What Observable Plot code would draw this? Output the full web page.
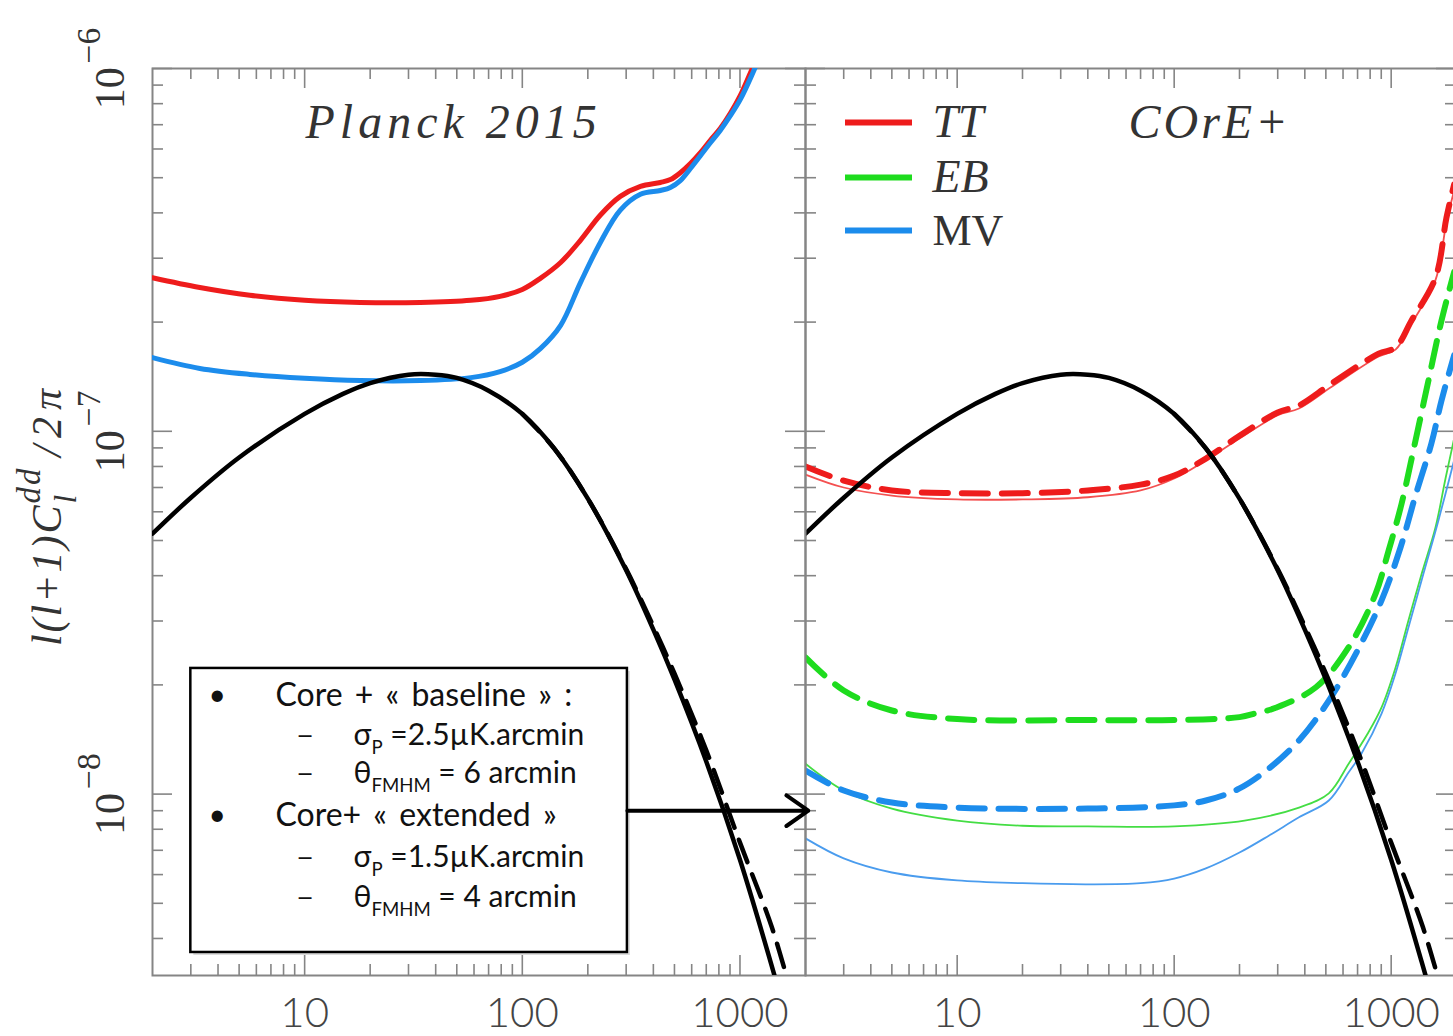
<!DOCTYPE html>
<html><head><meta charset="utf-8">
<script src="https://cdn.jsdelivr.net/npm/d3@7"></script>
<script src="https://cdn.jsdelivr.net/npm/@observablehq/plot@0.6"></script>
<style>
html,body{margin:0;padding:0;background:#fff;overflow:hidden;}
#wrap{position:relative;width:1453px;height:1036px;overflow:hidden;background:#fff;}
#wrap svg{position:absolute;top:0;overflow:visible;}
</style></head><body><div id="wrap"></div>
<script>
// ---------- data (values in units of 1e-8) ----------
const ellBlack = [2,3,5,10,15,20,30,40,50,70,100,140,200,300,400,500,700,1000,1380,1500];
const cBlack   = [5.22,6.56,8.47,11.17,12.68,13.58,14.32,14.32,14.03,12.94,11.17,8.97,6.52,4.14,2.84,2.07,1.23,0.659,0.346,0.290];
const ellBlackB = [100,140,200,300,400,500,700,1000,1400,1700];
const cBlackB   = [11.17,8.97,6.52,4.17,2.90,2.15,1.32,0.735,0.43,0.29];

const ellPlanck = [2,3.3,5.6,10,18,34,58,79,100,121,150,185,228,282,349,431,479,532,592,658,731,813,903,1004,1140,1250];
const cPlanckTT = [26.5,24.9,23.7,22.96,22.65,22.65,22.96,23.55,24.6,26.4,29.2,33.6,39.4,44.4,47.3,48.5,49.4,51.6,54.7,58.6,63.4,68.4,75.2,84.3,100,112];
const cPlanckMV = [15.96,14.9,14.35,14.0,13.8,13.8,14.06,14.6,15.5,16.9,19.6,25.7,33.1,40.7,45.0,46.1,47.0,49.1,53.0,57.5,62.4,67.6,74.1,82.2,96.6,110];

const ellTT = [2,3,5,10,20,40,70,100,140,200,300,376,532,875,1047,1241,1600,1798,1950];
const cTTbase = [8.00,7.31,6.87,6.75,6.75,6.87,7.13,7.55,8.41,9.72,11.27,11.78,13.55,16.37,17.02,20.2,26.5,38.8,47.9];
const cTText  = [7.60,7.00,6.65,6.49,6.49,6.58,6.87,7.41,8.32,9.55,11.07,11.56,13.27,16.07,16.79,19.8,26.1,37.7,46.1];

const ellEBbase = [2,3,5,10,40,100,200,238,294,450,637,848,973,1117,1295,1485,1706,1950];
const cEBbase   = [2.38,1.93,1.70,1.61,1.60,1.60,1.63,1.67,1.73,1.97,2.54,3.57,4.69,6.32,9.44,13.8,20.2,27.5];
const ellMVbase = [2,3,5,10,40,100,140,199,274,376,516,708,903,1105,1294,1532,1706,1950];
const cMVbase   = [1.161,1.023,0.948,0.918,0.912,0.931,0.960,1.035,1.178,1.406,1.81,2.52,3.42,4.79,6.65,9.25,12.16,16.2];

const ellEBext = [2,3,5,10,20,40,100,211,376,516,637,780,903,1047,1201,1384,1600,1780,1950];
const cEBext   = [1.213,1.023,0.912,0.845,0.818,0.815,0.815,0.845,0.918,1.005,1.213,1.469,1.734,2.23,3.01,4.06,5.43,7.41,9.55];
const ellMVext = [2,3,5,10,20,40,70,100,140,200,274,376,516,637,730,903,1047,1201,1410,1651,1950];
const cMVext   = [0.755,0.665,0.608,0.578,0.568,0.564,0.568,0.585,0.624,0.690,0.769,0.863,0.960,1.148,1.294,1.667,2.15,2.88,4.06,5.68,8.32];

const xMajor = [10, 100, 1000];
const xMinor = [3,4,5,6,7,8,9,20,30,40,50,60,70,80,90,200,300,400,500,600,700,800,900];
const yMajor = [1e-8, 1e-7, 1e-6];
const yMinor = [4e-9,5e-9,6e-9,7e-9,8e-9,9e-9,2e-8,3e-8,4e-8,5e-8,6e-8,7e-8,8e-8,9e-8,2e-7,3e-7,4e-7,5e-7,6e-7,7e-7,8e-7,9e-7];

const panelTitles = ["Planck 2015", "COrE+"];
const legendLabels = ["TT", "EB", "MV"];
const yLabel = "l(l+1)C_{l}^{dd}/2π";
const boxHeaders = ["Core + « baseline » :", "Core+ « extended »"];
const boxParams = ["σ_{P} =2.5µK.arcmin", "θ_{FMHM} = 6 arcmin", "σ_{P} =1.5µK.arcmin", "θ_{FMHM} = 4 arcmin"];
// annotation box (ell, value) and arrow
const boxEll = [3, 304];
const boxVal = [3.66e-9, 2.22e-8];
const arrowEll = [304, 2060];
const arrowVal = 9.0e-9;

// ---------- layout ----------
const H = 1036, MT = 68, MB = 61;
const PH = H - MT - MB;
const serif = "'Liberation Serif','DejaVu Serif',serif";
const sans = "Lato,'Open Sans','Noto Sans',sans-serif";
const RED = "#ee1c1c", GREEN = "#1edc1e", BLUE = "#1c8cec";
const yDomain = [Math.pow(10, -8.5), 1e-6];
const xDomain = [2, 2000];

const rows = (ell, vals) => ell.map((l, i) => ({l, v: vals[i] * 1e-8}));
const line = (ell, vals, o) => Plot.line(rows(ell, vals), {x: "l", y: "v", curve: "catmull-rom", clip: true, strokeLinejoin: "round", ...o});

function axes(pw) {
  const tk = {stroke: "#858585", strokeWidth: 1.6};
  return [
    Plot.tickX(xMajor, {x: d => d, insetTop: PH - 20, ...tk}),
    Plot.tickX(xMinor, {x: d => d, insetTop: PH - 11, ...tk}),
    Plot.tickX(xMajor, {x: d => d, insetBottom: PH - 20, ...tk}),
    Plot.tickX(xMinor, {x: d => d, insetBottom: PH - 11, ...tk}),
    Plot.tickY(yMajor, {y: d => d, insetRight: pw - 20, ...tk}),
    Plot.tickY(yMinor, {y: d => d, insetRight: pw - 11, ...tk}),
    Plot.tickY(yMajor, {y: d => d, insetLeft: pw - 20, ...tk}),
    Plot.tickY(yMinor, {y: d => d, insetLeft: pw - 11, ...tk}),
    Plot.frame({stroke: "#858585", strokeWidth: 2}),
    Plot.text(xMajor, {x: d => d, frameAnchor: "bottom", lineAnchor: "bottom", dy: 51, text: d => String(d), fontSize: 42, fontFamily: sans, fontWeight: 300, fill: "#444"})
  ];
}

const boxText = (s, dx, dy, size = 30, weight = "normal") => Plot.text([s], {frameAnchor: "bottom-left", lineAnchor: "middle", dx, dy, text: d => d, textAnchor: "start", fontSize: size, fontWeight: weight, fontFamily: sans, fill: "#111"});

const WL = 805, WR = 651;
const left = Plot.plot({
  width: WL, height: H, marginLeft: 152, marginRight: 0, marginTop: MT, marginBottom: MB,
  x: {type: "log", domain: xDomain, axis: null},
  y: {type: "log", domain: yDomain, axis: null},
  style: {overflow: "visible", background: "transparent"},
  marks: [
    ...axes(WL - 152),
    line(ellPlanck, cPlanckTT, {stroke: RED, strokeWidth: 5}),
    line(ellPlanck, cPlanckMV, {stroke: BLUE, strokeWidth: 5}),
    line(ellBlackB, cBlackB, {stroke: "#000", strokeWidth: 4.5, strokeDasharray: "24,13"}),
    line(ellBlack, cBlack, {stroke: "#000", strokeWidth: 4.5}),
    Plot.rect([0], {x1: boxEll[0], x2: boxEll[1], y1: boxVal[0], y2: boxVal[1], dx: 3, dy: 3, fill: "#999", fillOpacity: 0.35}),
    Plot.rect([0], {x1: boxEll[0], x2: boxEll[1], y1: boxVal[0], y2: boxVal[1], fill: "#fff", stroke: "#000", strokeWidth: 2.5}),
    boxText("•", 56, -280), boxText(boxHeaders[0], 123, -280, 32),
    boxText("—", 145, -240, 19, "bold"), boxText(boxParams[0], 201, -240),
    boxText("—", 145, -202, 19, "bold"), boxText(boxParams[1], 201, -202),
    boxText("•", 56, -160), boxText(boxHeaders[1], 123, -160, 32),
    boxText("—", 145, -118, 19, "bold"), boxText(boxParams[2], 201, -118),
    boxText("—", 145, -78, 19, "bold"), boxText(boxParams[3], 201, -78),
    Plot.arrow([0], {x1: arrowEll[0], x2: arrowEll[1], y1: arrowVal, y2: arrowVal, stroke: "#000", strokeWidth: 4, headLength: 10, headAngle: 70}),
    Plot.text(yMajor, {y: d => d, frameAnchor: "left", dx: -29, rotate: -90, textAnchor: "middle", lineAnchor: "bottom",
      text: d => "10^{−" + Math.round(-Math.log10(d)) + "}", fontSize: 42, fontFamily: serif, fill: "#333"}),
    Plot.text([yLabel], {frameAnchor: "left", dx: -92, dy: -8, rotate: -90, textAnchor: "middle", lineAnchor: "bottom",
      text: d => d, fontSize: 42, fontStyle: "italic", fontFamily: serif, fill: "#333"}),
    Plot.text([panelTitles[0]], {frameAnchor: "top-left", lineAnchor: "middle", dx: 153, dy: 54, textAnchor: "start", text: d => d,
      fontSize: 48, fontStyle: "italic", fontFamily: serif, fill: "#333"})
  ]
});

const ys = d3.scaleLog().domain(yDomain).range([H - MB, MT]);
const xs = d3.scaleLog().domain(xDomain).range([0, WR]);
const legY = [122, 177, 230].map(p => ys.invert(p));
const legColors = [RED, GREEN, BLUE];
const legRows = legendLabels.map((d, i) => ({label: d, y: legY[i], c: legColors[i]}));

const right = Plot.plot({
  width: WR, height: H, marginLeft: 0, marginRight: 0, marginTop: MT, marginBottom: MB,
  x: {type: "log", domain: xDomain, axis: null},
  y: {type: "log", domain: yDomain, axis: null},
  style: {overflow: "visible", background: "transparent"},
  marks: [
    ...axes(WR),
    line(ellTT, cTText, {stroke: "#f45050", strokeWidth: 1.8}),
    line(ellEBext, cEBext, {stroke: "#44dd44", strokeWidth: 1.8}),
    line(ellMVext, cMVext, {stroke: "#4a9cee", strokeWidth: 1.8}),
    line(ellTT, cTTbase, {stroke: RED, strokeWidth: 6, strokeDasharray: "26,14"}),
    line(ellEBbase, cEBbase, {stroke: GREEN, strokeWidth: 6, strokeDasharray: "26,14"}),
    line(ellMVbase, cMVbase, {stroke: BLUE, strokeWidth: 6, strokeDasharray: "26,14"}),
    line(ellBlackB, cBlackB, {stroke: "#000", strokeWidth: 4.5, strokeDasharray: "24,13"}),
    line(ellBlack, cBlack, {stroke: "#000", strokeWidth: 4.5}),
    Plot.ruleY(legRows, {y: "y", x1: xs.invert(40), x2: xs.invert(107), stroke: "c", strokeWidth: 6}),
    Plot.text(legRows.filter(d => d.label !== "MV"),
      {y: "y", x: xs.invert(127), text: "label", textAnchor: "start", fontSize: 46, fontFamily: serif, fill: "#333", fontStyle: "italic"}),
    Plot.text(legRows.filter(d => d.label === "MV"),
      {y: "y", x: xs.invert(127), text: "label", textAnchor: "start", fontSize: 44, fontFamily: serif, fill: "#333"}),
    Plot.text([panelTitles[1]], {frameAnchor: "top-left", lineAnchor: "middle", dx: 323, dy: 54, textAnchor: "start", text: d => d,
      fontSize: 48, fontStyle: "italic", fontFamily: serif, fill: "#333"})
  ]
});

const wrap = document.getElementById("wrap");
right.style.left = WL + "px"; right.style.zIndex = 1;
left.style.left = "0px"; left.style.zIndex = 2;
wrap.appendChild(right);
wrap.appendChild(left);

// rich text: _{sub} and ^{sup}
function richText(svg) {
  svg.querySelectorAll("text").forEach(t => {
    const s = t.textContent;
    if (s === "Planck 2015") t.style.letterSpacing = "5px";
    if (s === "COrE+") t.style.letterSpacing = "3px";
    if (/^Core/.test(s)) t.style.wordSpacing = "4px";
    if (!/[_^]\{/.test(s)) return;
    const isTick = /^10\^/.test(s);
    const isLabel = s === yLabel;
    if (isLabel) t.style.letterSpacing = "2px";
    const fs = parseFloat(getComputedStyle(t).fontSize);
    t.textContent = "";
    const re = /([_^])\{([^}]*)\}/g;
    let last = 0, shift = 0, m, prevSub = null;
    const add = (txt, newShift, scale, dx) => {
      const ts = document.createElementNS("http://www.w3.org/2000/svg", "tspan");
      const dy = newShift - shift;
      if (dy) ts.setAttribute("dy", dy);
      if (dx) ts.setAttribute("dx", dx);
      if (scale) ts.setAttribute("font-size", fs * scale);
      ts.textContent = txt; t.appendChild(ts); shift = newShift; return ts;
    };
    while ((m = re.exec(s))) {
      if (m.index > last) { add(s.slice(last, m.index), 0, null); prevSub = null; }
      if (m[1] === "_") prevSub = add(m[2], fs * (isLabel ? 0.38 : 0.28), isLabel ? 0.75 : 0.62);
      else {
        const dx = (prevSub && m.index === last) ? -prevSub.getComputedTextLength() : 0;
        add(m[2], -fs * (isTick ? 0.55 : 0.5), isTick ? 0.8 : 0.78, (isTick ? 4 : 0) + dx); prevSub = null;
      }
      last = re.lastIndex;
    }
    if (last < s.length) {
      const ts = add(s.slice(last), 0, null, isLabel ? 10 : 0);
      if (isLabel) ts.style.letterSpacing = "7px";
    }
  });
}
richText(left); richText(right);
</script></body></html>
